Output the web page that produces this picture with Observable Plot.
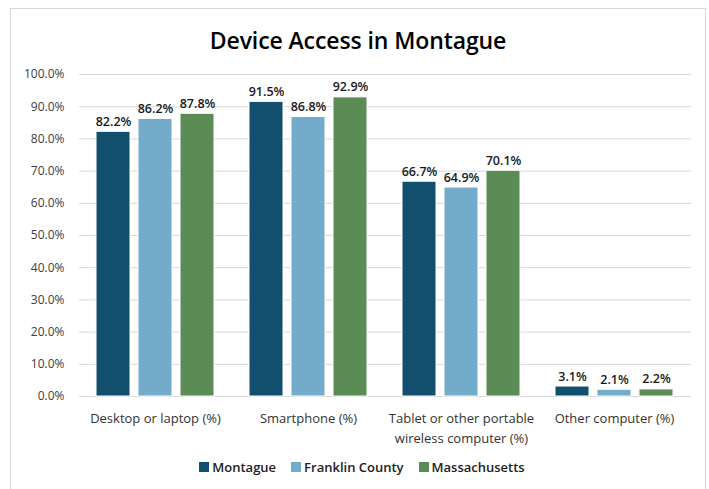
<!DOCTYPE html>
<html>
<head>
<meta charset="utf-8">
<script src="https://cdn.jsdelivr.net/npm/d3@7"></script>
<script src="https://cdn.jsdelivr.net/npm/@observablehq/plot@0.6"></script>
<style>
  html, body { margin: 0; padding: 0; background: #fff; }
  body { position: relative; width: 709px; height: 489px; overflow: hidden; font-family: "Open Sans", "Noto Sans", sans-serif; }
  #frame { position: absolute; left: 10px; top: 8px; width: 696px; height: 520px; border: 1px solid #d9d9d9; box-sizing: border-box; }
  #title { position: absolute; left: 0; top: 24px; width: 716px; text-align: center; font-size: 23px; font-weight: 600; color: #000; letter-spacing: -0.1px; }
  #grid, #chart { position: absolute; left: 0; top: 60px; }
  #legend { position: absolute; left: 0; top: 458px; width: 724px; display: flex; justify-content: center; gap: 15px; font-size: 13px; font-weight: 600; color: #222; }
  #legend span.item { display: inline-flex; align-items: center; }
  #legend span.sw { display: inline-block; width: 10px; height: 10px; margin-right: 3px; }
</style>
</head>
<body>
<div id="frame"></div>
<div id="title">Device Access in Montague</div>
<div id="grid"></div>
<div id="chart"></div>
<div id="legend"></div>
<script>
const categories = ["Desktop or laptop (%)", "Smartphone (%)", "Tablet or other portable wireless computer (%)", "Other computer (%)"];
const categoryLabels = ["Desktop or laptop (%)", "Smartphone (%)", "Tablet or other portable\nwireless computer (%)", "Other computer (%)"];
const series = ["Montague", "Franklin County", "Massachusetts"];
const colors = ["#124f6e", "#73abcb", "#5b8c56"];
const montague = [82.2, 91.5, 66.7, 3.1];
const franklin = [86.2, 86.8, 64.9, 2.1];
const massachusetts = [87.8, 92.9, 70.1, 2.2];
const yTicks = [0, 10, 20, 30, 40, 50, 60, 70, 80, 90, 100];

const values = [montague, franklin, massachusetts];
const data = [];
categories.forEach((c, i) => {
  series.forEach((s, j) => data.push({category: c, series: s, value: values[j][i]}));
});
const catData = categories.map((c, i) => ({category: c, label: categoryLabels[i]}));

const common = {
  width: 709,
  height: 392,
  marginLeft: 79,
  marginRight: 18,
  marginTop: 14,
  marginBottom: 56,
  style: {fontFamily: "'Open Sans', 'Noto Sans', sans-serif", fontSize: "12px", color: "#404040", background: "transparent"}
};

// Background: continuous gridlines and y axis
const grid = Plot.plot({
  ...common,
  x: {axis: null},
  y: {domain: [0, 100], ticks: yTicks, tickFormat: d => d.toFixed(1) + "%", label: null, tickSize: 0, tickPadding: 15},
  marks: [
    Plot.ruleY(yTicks, {stroke: "#d9d9d9", strokeWidth: 1})
  ]
});
document.getElementById("grid").appendChild(grid);

// Foreground: grouped bars
const chart = Plot.plot({
  ...common,
  fx: {domain: categories, paddingInner: 0.11, paddingOuter: 0.055, axis: null, label: null},
  x: {domain: series, padding: 0.2, axis: null},
  y: {domain: [0, 100], axis: null},
  color: {domain: series, range: colors},
  marks: [
    Plot.barY(data, {fx: "category", x: "series", y: "value", fill: "series", stroke: "#fff", strokeWidth: 1}),
    Plot.text(data, {fx: "category", x: "series", y: "value", text: d => d.value.toFixed(1) + "%", dy: -10,
      fontSize: 12.5, fontWeight: 600, fill: "#1a1a1a"}),
    Plot.text(catData, {fx: "category", text: "label", frameAnchor: "bottom", lineAnchor: "top", dy: 13,
      lineHeight: 1.5, fontSize: 13, fill: "#333"})
  ]
});
document.getElementById("chart").appendChild(chart);

const legend = document.getElementById("legend");
series.forEach((s, i) => {
  const item = document.createElement("span");
  item.className = "item";
  const sw = document.createElement("span");
  sw.className = "sw";
  sw.style.background = colors[i];
  item.appendChild(sw);
  item.appendChild(document.createTextNode(s));
  legend.appendChild(item);
});
</script>
</body>
</html>
